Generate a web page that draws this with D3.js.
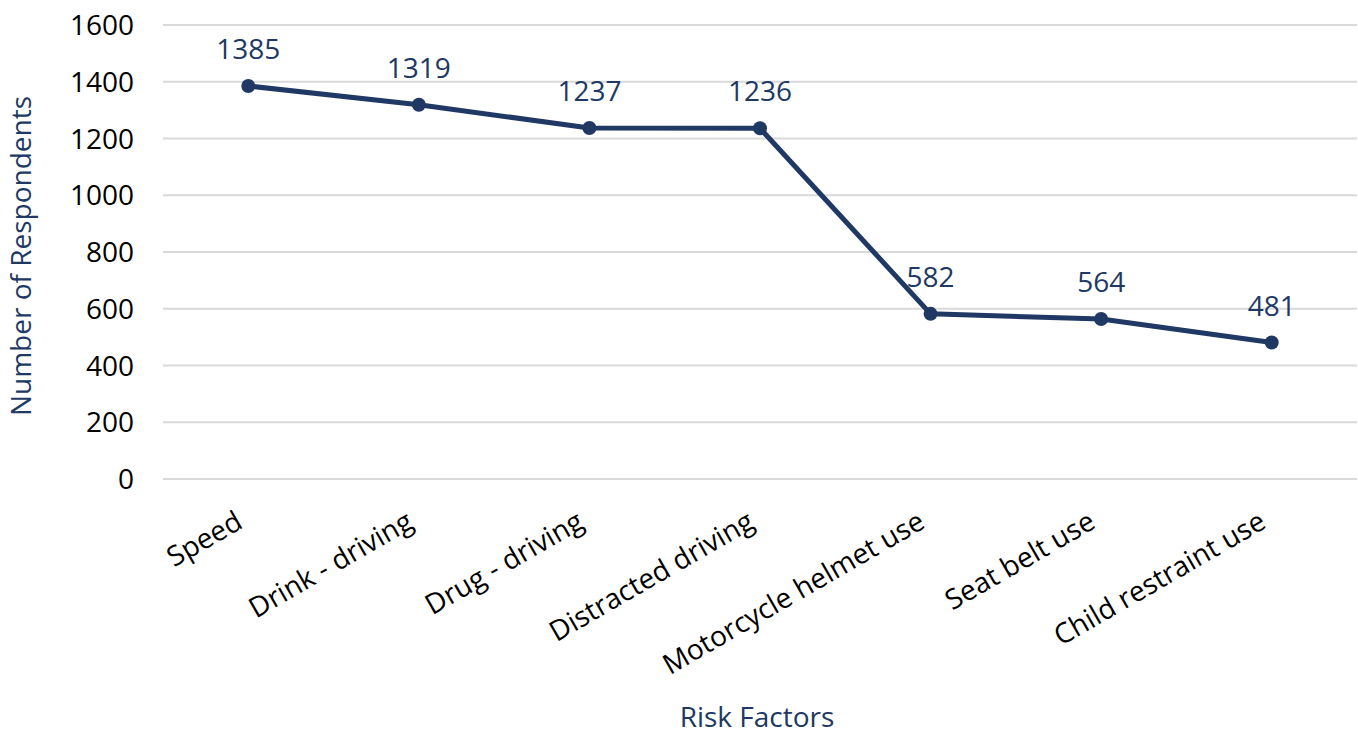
<!DOCTYPE html>
<html><head><meta charset="utf-8">
<script src="https://cdn.jsdelivr.net/npm/d3@7"></script>
<style>body{margin:0;background:#fff}text{font-family:"Open Sans","Noto Sans",sans-serif}</style>
</head><body><svg id="c" width="1358" height="734"></svg>
<script>
const categories = ["Speed","Drink - driving","Drug - driving","Distracted driving","Motorcycle helmet use","Seat belt use","Child restraint use"];
const values = [1385,1319,1237,1236,582,564,481];
const yTicks = [0,200,400,600,800,1000,1200,1400,1600];
const xTitle = "Risk Factors", yTitle = "Number of Respondents";

const svg = d3.select("#c");
const m = {l:163, r:1357, t:25, b:479};
const navy = "#203864";
const fs = 28;
const x = d3.scaleBand().domain(categories).range([m.l, m.r]);
const y = d3.scaleLinear().domain([0,1600]).range([m.b, m.t]);

svg.append("g").selectAll("line").data(yTicks).join("line")
  .attr("x1", m.l).attr("x2", m.r).attr("y1", d=>y(d)).attr("y2", d=>y(d))
  .attr("stroke","#d9d9d9").attr("stroke-width",2);

svg.append("g").selectAll("text").data(yTicks).join("text")
  .attr("x", 134).attr("y", d=>y(d)).attr("dy","0.36em").attr("text-anchor","end")
  .attr("font-size",fs).attr("fill","#000").text(d=>d);

const cx = d => x(d) + x.bandwidth()/2;
svg.append("g").selectAll("text").data(categories).join("text")
  .attr("transform", d=>`translate(${cx(d)-4},${527}) rotate(-30)`)
  .attr("text-anchor","end").attr("font-size",fs).attr("fill","#000").text(d=>d);

const line = d3.line().x((d,i)=>cx(categories[i])).y(d=>y(d));
svg.append("path").datum(values).attr("d", line).attr("fill","none")
  .attr("stroke", navy).attr("stroke-width",5).attr("stroke-linejoin","round");
svg.append("g").selectAll("circle").data(values).join("circle")
  .attr("cx",(d,i)=>cx(categories[i])).attr("cy",d=>y(d)).attr("r",7).attr("fill",navy);
svg.append("g").selectAll("text").data(values).join("text")
  .attr("x",(d,i)=>cx(categories[i])).attr("y",d=>y(d)-27).attr("text-anchor","middle")
  .attr("font-size",fs).attr("fill",navy).text(d=>d);

svg.append("text").attr("x",757).attr("y",727).attr("text-anchor","middle")
  .attr("font-size",fs).attr("fill",navy).text(xTitle);
svg.append("text").attr("transform","translate(31,256) rotate(-90)").attr("text-anchor","middle")
  .attr("font-size",fs).attr("fill",navy).text(yTitle);
</script></body></html>
